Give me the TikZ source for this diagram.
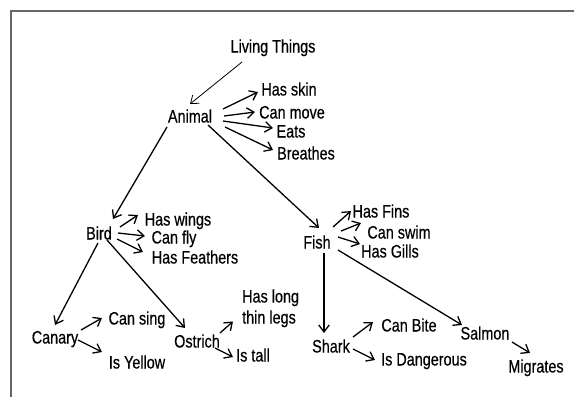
\documentclass[tikz,border=0pt]{standalone}
\usepackage{fontspec}
\setmainfont{Liberation Sans}[FakeStretch=0.80,FakeBold=0.4]
\usetikzlibrary{arrows.meta}
\tikzset{
  lbl/.style={inner sep=0pt, text height=13pt, text depth=0pt, anchor=center, font=\fontsize{18}{21}\selectfont},
  arr/.style={line width=1.3pt, -{Straight Barb[length=7pt,width=10.5pt,line width=1.3pt]}},
  thinarr/.style={line width=0.8pt, -{Straight Barb[length=7pt,width=10.5pt,line width=0.8pt]}},
  frame/.style={draw=black!60, line width=1.6pt}
}
\begin{document}
\begin{tikzpicture}[x=1pt,y=-1pt]
\useasboundingbox (0,0) rectangle (574,397);
\draw[frame] (11,397) -- (11,11) -- (574,11);

\node[lbl] (lt) at (273,46) {Living Things};
\node[lbl] (animal) at (190,116) {Animal};
\node[lbl] (skin) at (289,89) {Has skin};
\node[lbl] (move) at (292,112) {Can move};
\node[lbl] (eats) at (291,131) {Eats};
\node[lbl] (breathes) at (306,153) {Breathes};
\node[lbl] (bird) at (99,233) {Bird};
\node[lbl] (wings) at (178,219) {Has wings};
\node[lbl] (fly) at (174,237) {Can fly};
\node[lbl] (feathers) at (195,257) {Has Feathers};
\node[lbl] (fish) at (317,242) {Fish};
\node[lbl] (fins) at (381,211) {Has Fins};
\node[lbl] (swim) at (399,232) {Can swim};
\node[lbl] (gills) at (390,251) {Has Gills};
\node[lbl] (canary) at (55,337) {Canary};
\node[lbl] (sing) at (137,318) {Can sing};
\node[lbl] (yellow) at (137,362) {Is Yellow};
\node[lbl] (ostrich) at (197,341) {Ostrich};
\node[inner sep=0pt, anchor=base west, align=left, font=\fontsize{18}{21}\selectfont] (legs) at (242,323.5) {Has long\\thin legs};
\node[lbl] (tall) at (253,355) {Is tall};
\node[lbl] (shark) at (331,346) {Shark};
\node[lbl] (bite) at (409,325) {Can Bite};
\node[lbl] (dangerous) at (424,359) {Is Dangerous};
\node[lbl] (salmon) at (485,333) {Salmon};
\node[lbl] (migrates) at (536,366) {Migrates};

\draw[thinarr] ([shift={(-31,16)}]lt.center) -- ([shift={(0,-12)}]animal.center);
\draw[arr] ([shift={(33,-7)}]animal.center) -- ([shift={(-31,3)}]skin.center);
\draw[arr] ([shift={(34,0)}]animal.center) -- ([shift={(-37,0)}]move.center);
\draw[arr] ([shift={(33,5)}]animal.center) -- ([shift={(-18,-3)}]eats.center);
\draw[arr] ([shift={(35,11)}]animal.center) -- ([shift={(-33,-3)}]breathes.center);
\draw[arr] ([shift={(-23,11)}]animal.center) -- ([shift={(14,-14)}]bird.center);
\draw[arr] ([shift={(18,9)}]animal.center) -- ([shift={(2,-14)}]fish.center);

\draw[arr] ([shift={(21,-6)}]bird.center) -- ([shift={(-40,-4)}]wings.center);
\draw[arr] ([shift={(19,0)}]bird.center) -- ([shift={(-29,-1)}]fly.center);
\draw[arr] ([shift={(18,6)}]bird.center) -- ([shift={(-52,-5)}]feathers.center);
\draw[arr] ([shift={(-1,10)}]bird.center) -- ([shift={(0,-12)}]canary.center);
\draw[arr] ([shift={(8,7)}]bird.center) -- ([shift={(-12,-13)}]ostrich.center);

\draw[arr] ([shift={(26,-7)}]canary.center) -- ([shift={(-35,0)}]sing.center);
\draw[arr] ([shift={(23,3)}]canary.center) -- ([shift={(-35,-10)}]yellow.center);
\draw[arr] ([shift={(23,-8)}]ostrich.center) -- ([shift={(-9,-2)}]legs.base west);
\draw[arr] ([shift={(18,7)}]ostrich.center) -- ([shift={(-20,2)}]tall.center);

\draw[arr] ([shift={(16,-15)}]fish.center) -- ([shift={(-30,0)}]fins.center);
\draw[arr] ([shift={(24,-11)}]fish.center) -- ([shift={(-38,-9)}]swim.center);
\draw[arr] ([shift={(21,-5)}]fish.center) -- ([shift={(-30,-7)}]gills.center);
\draw[arr] ([shift={(7,11)}]fish.center) -- ([shift={(-7,-13)}]shark.center);
\draw[arr] ([shift={(21,8)}]fish.center) -- ([shift={(-23,-8)}]salmon.center);

\draw[arr] ([shift={(22,-9)}]shark.center) -- ([shift={(-36,-3)}]bite.center);
\draw[arr] ([shift={(22,3)}]shark.center) -- ([shift={(-49,1)}]dangerous.center);
\draw[arr] ([shift={(27,9)}]salmon.center) -- ([shift={(-6,-13)}]migrates.center);
\end{tikzpicture}
\end{document}
